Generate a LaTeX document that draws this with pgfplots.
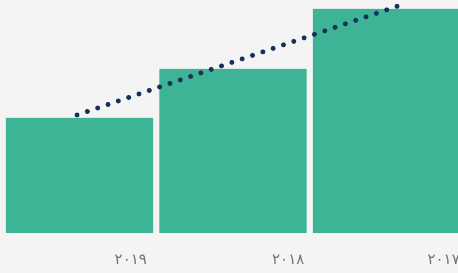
\documentclass[border=0pt]{standalone}
\usepackage{fontspec}
\usepackage{pgfplots}
\pgfplotsset{compat=1.18}
\newfontfamily\arabicfont[Script=Arabic]{DejaVu Sans}
\definecolor{bg}{HTML}{F4F4F4}
\definecolor{barc}{HTML}{3DB496}
\definecolor{linec}{HTML}{17325A}
\definecolor{labc}{HTML}{737373}
\begin{document}
\begin{tikzpicture}
\begin{axis}[
  scale only axis, width=458bp, height=273bp,
  xmin=-0.518, xmax=2.466, ymin=-40, ymax=233,
  axis line style={draw=none}, ticks=none,
  axis background/.style={fill=bg},
  clip=false,
]
\addplot[ybar, bar width=0.958, fill=barc, draw=none] coordinates {(0,115) (1,164) (2,224)};
\addplot[linec, line width=5bp, line cap=round, dash pattern=on 0bp off 10.9bp] coordinates {(-0.016,118) (1,171) (2.075,227)};
\node[anchor=base east, text=labc, font=\arabicfont\fontsize{15}{17}\selectfont, inner sep=0pt] at (axis cs:0.44,-31) {٢٠١٩};
\node[anchor=base east, text=labc, font=\arabicfont\fontsize{15}{17}\selectfont, inner sep=0pt] at (axis cs:1.466,-31) {٢٠١٨};
\node[anchor=base east, text=labc, font=\arabicfont\fontsize{15}{17}\selectfont, inner sep=0pt] at (axis cs:2.479,-31) {٢٠١٧};
\end{axis}
\pgfresetboundingbox
\useasboundingbox (current axis.south west) rectangle (current axis.north east);
\end{tikzpicture}
\end{document}
